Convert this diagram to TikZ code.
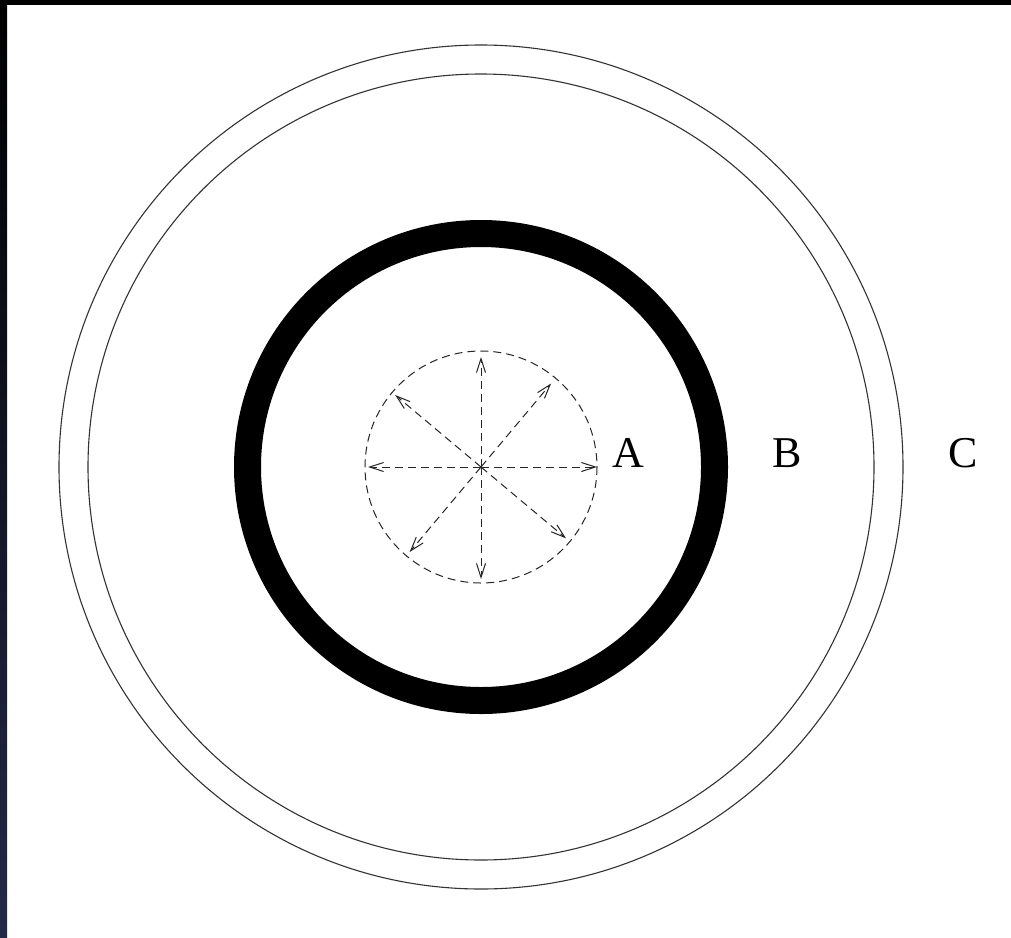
\documentclass[tikz,border=0pt]{standalone}
\usepackage{fontspec}
\setmainfont{Liberation Serif}
\usetikzlibrary{arrows.meta}
\definecolor{edgenavy}{HTML}{232A48}

\begin{document}
\begin{tikzpicture}[x=0.5pt, y=-0.5pt,
    shell/.style={draw=black!80, line width=0.55pt},
    wall/.style={draw=black, line width=13.5pt},
    ray/.style={draw=black!85, line width=0.5pt, dash pattern=on 4pt off 2.5pt,
      -{Straight Barb[length=7pt, width=4.5pt, line width=0.5pt]}},
    zone/.style={anchor=base, inner sep=0pt, font=\fontsize{22}{26}\selectfont}]
  \useasboundingbox (0,0) rectangle (1011,937);
  \fill[white] (0,0) rectangle (1011,937);
  % dark strips along the top and left edge
  \shade[top color=black, bottom color=edgenavy] (0,0) rectangle (7,937);
  \fill[black] (0,0) rectangle (1011,5);
  \coordinate (o) at (481,467);
  \draw[shell] (o) circle[radius=422];
  \draw[shell] (o) circle[radius=393];
  \draw[wall] (o) circle[radius=233.5];
  \draw[draw=black!85, line width=0.5pt, dash pattern=on 4pt off 2.5pt] (o) circle[radius=116];
  \foreach \a/\r in {0/116, 40/111, 90/112, 130/111, 180/113, 220/112, 270/110, 310/109}
    \draw[ray] (o) -- ++(\a:\r);
  \node[zone] (lblA) at (628,467) {A};
  \node[zone] (lblB) at (787,467) {B};
  \node[zone] (lblC) at (963,467) {C};
\end{tikzpicture}
\end{document}
